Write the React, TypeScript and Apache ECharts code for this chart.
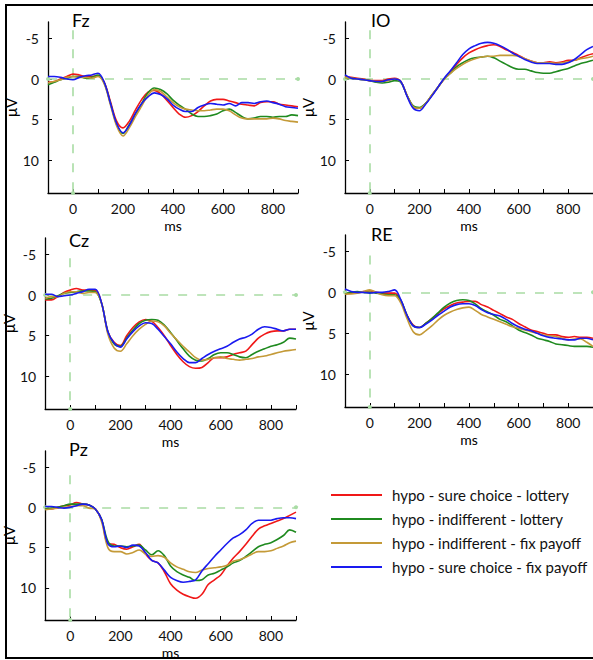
import React, { useEffect, useRef } from "react";
import * as echarts from "echarts";

const times = [-100, -75, -50, -25, 0, 25, 50, 75, 100, 125, 150, 175, 200, 225, 250, 275, 300, 325, 350, 375, 400, 425, 450, 475, 500, 525, 550, 575, 600, 625, 650, 675, 700, 725, 750, 775, 800, 825, 850, 875, 900];

const conditions = [
  "hypo - sure choice - lottery",
  "hypo - indifferent - lottery",
  "hypo - indifferent - fix payoff",
  "hypo - sure choice - fix payoff",
];
const colors = ["#f01818", "#1f8a1f", "#c49a38", "#1a1af0"];

const panelNames = ["Fz", "IO", "Cz", "RE", "Pz"];

// Fz
const fzRed = [0.4, 0.3, 0.0, -0.3, -0.6, -0.5, -0.3, -0.3, -0.4, 0.4, 2.8, 5.2, 6.0, 5.2, 3.8, 2.5, 1.6, 1.4, 1.8, 2.6, 3.5, 4.3, 4.7, 4.5, 4.0, 3.3, 2.7, 2.5, 2.5, 2.7, 2.9, 3.1, 3.2, 3.3, 2.9, 2.8, 2.8, 3.1, 3.2, 3.3, 3.4];
const fzGreen = [0.7, 0.4, 0.1, -0.1, -0.3, -0.3, -0.1, -0.2, -0.5, 0.5, 3.0, 5.6, 6.7, 5.6, 4.3, 3.0, 1.7, 1.1, 1.3, 1.8, 2.6, 3.2, 3.7, 4.3, 4.6, 4.6, 4.5, 4.3, 3.9, 3.7, 4.1, 4.6, 4.9, 4.8, 4.6, 4.6, 4.7, 4.6, 4.6, 4.4, 4.5];
const fzGold = [0.5, 0.3, 0.1, -0.2, -0.3, -0.2, -0.2, -0.1, -0.3, 0.6, 3.2, 5.8, 7.0, 6.0, 4.6, 3.3, 2.0, 1.3, 1.5, 2.2, 2.9, 3.4, 3.7, 3.8, 3.9, 3.9, 3.8, 3.7, 3.7, 3.9, 4.4, 4.8, 4.9, 4.9, 4.9, 4.9, 4.8, 4.9, 5.1, 5.2, 5.3];
const fzBlue = [-0.3, -0.3, -0.2, 0.0, 0.1, -0.2, -0.4, -0.5, -0.7, 0.4, 3.0, 5.5, 6.6, 5.7, 4.2, 3.0, 2.2, 1.7, 1.9, 2.4, 3.2, 3.7, 4.0, 4.0, 3.5, 3.2, 3.0, 3.1, 3.2, 3.0, 3.3, 2.9, 2.9, 3.0, 2.8, 2.7, 2.9, 3.1, 3.4, 3.5, 3.6];

// IO
const ioRed = [-0.3, -0.2, -0.1, 0.0, 0.2, 0.2, 0.2, 0.0, -0.1, 0.3, 2.0, 3.4, 3.6, 3.0, 2.0, 1.0, 0.0, -0.9, -1.8, -2.6, -3.2, -3.6, -3.9, -4.1, -4.2, -4.0, -3.6, -3.3, -2.9, -2.5, -2.2, -2.0, -2.0, -2.1, -2.0, -2.1, -2.3, -2.3, -2.6, -2.9, -3.1];
const ioGreen = [-0.2, -0.1, 0.0, 0.1, 0.2, 0.4, 0.5, 0.4, 0.2, 0.4, 2.0, 3.3, 3.5, 3.0, 2.0, 1.0, 0.0, -0.7, -1.5, -2.0, -2.4, -2.6, -2.7, -2.8, -2.6, -2.2, -1.8, -1.4, -1.2, -1.2, -1.0, -0.8, -0.7, -0.7, -0.9, -1.1, -1.3, -1.6, -1.9, -2.1, -2.3];
const ioGold = [-0.2, -0.1, 0.0, 0.1, 0.2, 0.3, 0.3, 0.2, 0.0, 0.3, 2.0, 3.4, 3.6, 3.0, 2.0, 1.0, 0.0, -0.7, -1.3, -1.8, -2.2, -2.5, -2.7, -2.8, -2.8, -2.9, -2.9, -2.9, -2.8, -2.5, -2.2, -2.0, -2.0, -2.0, -1.9, -2.0, -2.1, -2.3, -2.5, -2.6, -2.8];
const ioBlue = [-0.5, -0.1, 0.0, 0.1, 0.2, 0.3, 0.3, 0.1, 0.0, 0.3, 2.1, 3.6, 3.9, 3.1, 2.1, 1.0, -0.1, -1.0, -2.0, -3.0, -3.7, -4.1, -4.4, -4.5, -4.4, -4.1, -3.7, -3.2, -2.8, -2.4, -2.1, -1.9, -1.9, -1.9, -1.8, -1.8, -2.0, -2.4, -3.0, -3.6, -4.0];

// Cz
const czRed = [0.6, 0.6, 0.2, -0.3, -0.6, -0.8, -0.6, -0.6, -0.6, 1.0, 4.5, 5.8, 6.2, 5.0, 4.0, 3.3, 3.0, 3.2, 4.0, 5.0, 6.2, 7.3, 8.2, 8.8, 9.0, 8.9, 8.3, 7.7, 7.7, 7.6, 7.3, 7.1, 6.9, 6.1, 5.3, 4.8, 4.5, 4.4, 4.4, 4.2, 4.2];
const czGreen = [0.5, 0.4, 0.1, -0.2, -0.3, -0.4, -0.5, -0.5, -0.4, 1.0, 4.5, 6.0, 6.3, 5.3, 4.3, 3.5, 3.1, 3.0, 3.1, 3.7, 4.6, 5.6, 6.6, 7.5, 8.0, 8.1, 7.8, 7.3, 7.1, 7.1, 7.3, 7.6, 7.7, 7.3, 6.9, 6.6, 6.3, 6.1, 5.8, 5.3, 5.4];
const czGold = [0.4, 0.2, 0.2, -0.2, -0.4, -0.4, -0.2, -0.3, -0.3, 1.0, 4.8, 6.5, 6.9, 6.0, 5.0, 4.2, 3.6, 3.2, 3.3, 3.8, 4.7, 5.5, 6.3, 7.0, 7.7, 8.0, 7.9, 7.7, 7.6, 7.8, 7.9, 8.0, 7.9, 7.8, 7.6, 7.5, 7.3, 7.1, 6.9, 6.8, 6.7];
const czBlue = [-0.1, -0.1, 0.2, 0.1, 0.0, -0.2, -0.4, -0.7, -0.7, 1.0, 4.5, 5.9, 6.4, 5.4, 4.5, 3.8, 3.4, 3.5, 4.2, 5.1, 6.0, 7.0, 7.8, 8.3, 8.3, 7.8, 7.3, 6.9, 6.6, 6.3, 5.8, 5.4, 5.2, 4.8, 4.2, 3.9, 4.0, 4.2, 4.4, 4.2, 4.2];

// RE
const reRed = [0.2, 0.1, 0.0, -0.1, -0.2, 0.0, 0.1, 0.1, 0.1, 1.0, 2.8, 4.0, 4.3, 3.8, 3.2, 2.6, 2.0, 1.6, 1.3, 1.2, 1.1, 1.1, 1.5, 1.8, 2.2, 2.6, 3.0, 3.3, 3.8, 4.2, 4.6, 4.8, 5.0, 5.2, 5.2, 5.4, 5.5, 5.4, 5.5, 5.5, 5.6];
const reGreen = [0.2, 0.0, -0.1, 0.0, 0.0, 0.1, 0.2, 0.3, 0.3, 1.0, 2.8, 4.1, 4.3, 3.8, 3.2, 2.5, 1.8, 1.3, 1.0, 0.9, 1.0, 1.4, 2.0, 2.4, 2.8, 3.3, 3.6, 4.1, 4.6, 4.9, 5.2, 5.6, 5.8, 6.0, 6.3, 6.4, 6.5, 6.6, 6.6, 6.6, 6.7];
const reGold = [0.2, 0.2, 0.1, -0.1, -0.3, 0.0, 0.3, 0.4, 0.4, 1.3, 3.2, 4.8, 5.2, 4.7, 4.1, 3.4, 2.8, 2.4, 2.1, 1.9, 1.8, 2.2, 2.7, 3.0, 3.3, 3.6, 3.9, 4.2, 4.4, 4.6, 4.8, 5.0, 5.2, 5.3, 5.4, 5.6, 5.8, 5.7, 5.7, 6.1, 6.6];
const reBlue = [-0.4, -0.1, 0.0, 0.0, 0.1, 0.0, 0.0, -0.1, -0.3, 0.9, 2.8, 4.1, 4.3, 3.9, 3.4, 2.8, 2.3, 1.8, 1.5, 1.4, 1.4, 1.6, 2.1, 2.5, 2.7, 2.9, 3.3, 3.8, 4.2, 4.5, 4.7, 5.0, 5.3, 5.5, 5.6, 5.7, 5.8, 5.8, 5.6, 5.6, 5.8];

// Pz
const pzRed = [0.2, 0.2, 0.0, -0.2, -0.3, -0.6, -0.4, -0.3, 0.2, 1.5, 4.5, 4.6, 5.0, 5.2, 4.9, 4.6, 5.8, 6.6, 6.9, 8.0, 9.5, 10.3, 10.8, 11.1, 11.3, 10.8, 9.6, 9.0, 8.4, 7.3, 6.3, 5.5, 4.6, 3.6, 2.7, 2.3, 2.0, 1.7, 1.4, 1.0, 0.6];
const pzGreen = [0.2, 0.1, 0.0, -0.2, -0.4, -0.4, -0.4, -0.3, 0.2, 1.5, 4.2, 4.8, 4.8, 4.9, 4.8, 4.7, 5.3, 5.9, 5.4, 6.0, 7.3, 8.0, 8.4, 8.7, 9.1, 9.0, 8.4, 8.2, 7.8, 7.4, 6.9, 6.6, 6.1, 5.5, 4.9, 4.6, 4.4, 4.0, 3.5, 2.8, 3.1];
const pzGold = [0.3, 0.2, 0.1, 0.0, -0.1, -0.2, -0.2, 0.1, 0.2, 1.8, 5.0, 5.5, 5.5, 5.8, 5.6, 5.3, 5.8, 6.1, 6.0, 6.2, 6.9, 7.4, 7.7, 8.0, 8.1, 7.8, 7.6, 7.5, 7.4, 7.2, 6.7, 6.5, 6.2, 5.8, 5.5, 5.5, 5.4, 5.1, 4.8, 4.4, 4.2];
const pzBlue = [-0.1, -0.1, 0.0, 0.1, 0.0, -0.2, -0.4, -0.3, 0.2, 1.5, 4.5, 4.9, 4.8, 5.0, 4.7, 4.8, 5.6, 6.6, 6.9, 7.8, 8.7, 9.1, 9.3, 9.2, 9.0, 7.9, 7.0, 6.1, 5.3, 4.5, 3.8, 3.4, 2.8, 2.0, 1.6, 1.6, 1.6, 1.4, 1.3, 1.3, 1.4];

const panelData = [
  [fzRed, fzGreen, fzGold, fzBlue],
  [ioRed, ioGreen, ioGold, ioBlue],
  [czRed, czGreen, czGold, czBlue],
  [reRed, reGreen, reGold, reBlue],
  [pzRed, pzGreen, pzGold, pzBlue],
];

const xLabelTicks = [0, 200, 400, 600, 800];
const xMinorTicks = [0, 100, 200, 300, 400, 500, 600, 700, 800, 900];
const yTicks = [-5, 0, 5, 10];

// layout (pixels)
const grids = [
  { left: 48, top: 22, width: 250, height: 171 },
  { left: 345, top: 22, width: 253, height: 171 },
  { left: 44, top: 238, width: 252, height: 171 },
  { left: 345, top: 235, width: 252, height: 172 },
  { left: 44, top: 451, width: 252, height: 171 },
];
const titlePos = [
  { left: 67, top: 6 },
  { left: 366, top: 6 },
  { left: 64, top: 226 },
  { left: 366, top: 220 },
  { left: 64, top: 435 },
];
const vLineTop = [-6, -6, -4.5, -4.5, -4];

const FONT = "Lato";

export default function App() {
  const ref = useRef<HTMLDivElement>(null);
  useEffect(() => {
    if (!ref.current) return;
    const chart = echarts.init(ref.current, undefined, { renderer: "svg" });
    const series: any[] = [];
    panelData.forEach((arrs, p) => {
      arrs.forEach((vals, c) => {
        const s: any = {
          type: "line",
          name: conditions[c],
          xAxisIndex: p,
          yAxisIndex: p,
          data: times.map((t, i) => [t, vals[i]]),
          showSymbol: false,
          symbol: "none",
          smooth: 0.35,
          lineStyle: { width: 1.6, color: colors[c] },
          itemStyle: { color: colors[c] },
          z: 3,
        };
        if (c === 0) {
          s.markLine = {
            silent: true,
            animation: false,
            symbolSize: 4,
            label: { show: false },
            lineStyle: { color: "#a9dca4", type: [9, 10], width: 1.6 },
            data: [
              [
                { coord: [-100, 0], symbol: "circle" },
                { coord: [900, 0], symbol: "circle" },
              ],
              [
                { coord: [0, vLineTop[p]], symbol: "none" },
                { coord: [0, 14], symbol: "circle" },
              ],
            ],
            z: 1,
          };
        }
        series.push(s);
      });
    });

    const option: any = {
      animation: false,
      backgroundColor: "#ffffff",
      textStyle: { fontFamily: FONT },
      title: panelNames.map((n, i) => ({
        text: n,
        left: titlePos[i].left,
        top: titlePos[i].top,
        textStyle: { fontSize: 18, fontWeight: "normal", color: "#000", fontFamily: FONT },
      })),
      legend: {
        orient: "vertical",
        left: 326,
        top: 482,
        itemWidth: 51,
        itemHeight: 2,
        itemGap: 8,
        icon: "rect",
        data: conditions,
        textStyle: { fontSize: 15, lineHeight: 16, color: "#111", fontFamily: FONT, padding: [0, 0, 0, 5] },
      },
      grid: grids.map((g) => ({ ...g, containLabel: false })),
      xAxis: grids.map((_, i) => ({
        type: "value",
        gridIndex: i,
        min: -100,
        max: 900,
        name: "ms",
        nameLocation: "middle",
        nameGap: 25,
        nameTextStyle: { fontSize: 14, color: "#000", fontFamily: FONT },
        axisLine: { show: true, onZero: false, lineStyle: { color: "#000", width: 1.3 } },
        axisTick: { show: true, inside: true, length: 4, customValues: xMinorTicks, lineStyle: { color: "#000" } },
        axisLabel: { show: true, customValues: xLabelTicks, fontSize: 14, color: "#111", margin: 8, fontFamily: FONT },
        splitLine: { show: false },
      })),
      yAxis: grids.map((_, i) => ({
        type: "value",
        gridIndex: i,
        inverse: true,
        min: -7,
        max: 14,
        name: "μV",
        nameLocation: "middle",
        nameGap: 19,
        nameRotate: 90,
        nameTextStyle: { fontSize: 15, color: "#000", fontFamily: FONT },
        axisLine: { show: true, onZero: false, lineStyle: { color: "#000", width: 1.3 } },
        axisTick: { show: true, inside: true, length: 4, customValues: yTicks, lineStyle: { color: "#000" } },
        axisLabel: { show: true, customValues: yTicks, fontSize: 14, color: "#111", margin: 9, fontFamily: FONT },
        splitLine: { show: false },
      })),
      graphic: [
        {
          type: "rect",
          shape: { x: 6, y: 5, width: 620, height: 653 },
          style: { fill: "none", stroke: "#000", lineWidth: 2 },
          silent: true,
          z: 100,
        },
      ],
      series,
    };
    chart.setOption(option);
    return () => chart.dispose();
  }, []);
  return (
    <div
      ref={ref}
      style={{ position: "absolute", left: 0, top: 0, width: 593, height: 660 }}
    />
  );
}
